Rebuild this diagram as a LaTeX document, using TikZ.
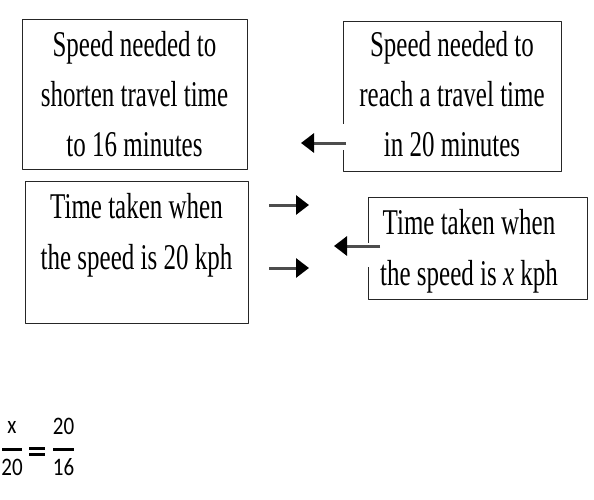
\documentclass[tikz,border=0pt]{standalone}
\usepackage{fontspec}
\setmainfont{Liberation Serif}
\newfontfamily\eqfont{Carlito}
\usetikzlibrary{arrows.meta,positioning}
\definecolor{BoxLine}{HTML}{262626}
\definecolor{ArrowShaft}{HTML}{4D4D4D}
\newcommand{\boxtext}[1]{\scalebox{1}[1.45]{\fontsize{25}{34.5}\selectfont\begin{tabular}{@{}c@{}}#1\end{tabular}}}
\newcommand{\eqnum}[1]{\scalebox{1}[1.2]{#1}}

\begin{document}
\begin{tikzpicture}[x=1pt,y=-1pt,line cap=round,line join=round,
  card/.style={draw=BoxLine,line width=1.3pt,anchor=north west,inner sep=0pt},
  pointer/.style={-{Triangle[length=13pt,width=19pt,color=black]},line width=3pt,draw=ArrowShaft,line cap=butt},
  eqtext/.style={font=\eqfont\fontsize{21}{24}\selectfont,anchor=base,inner sep=0pt}]
  \useasboundingbox (0,0) rectangle (594,500);
  % the four boxes
  \node[card,minimum width=225pt,minimum height=150pt] (speedSixteen) at (22,19) {};
  \node[card,minimum width=223pt,minimum height=142pt] (timeTwenty) at (25,181) {};
  \node[card,minimum width=218pt,minimum height=150pt] (speedTwenty) at (343,21) {};
  \node[card,minimum width=219pt,minimum height=102pt] (timeX) at (368,197) {};
  % gaps left where the arrows meet the boxes
  \draw[white,line width=3pt,line cap=butt] (343,124)--(343,150) (368,243)--(368,267);
  \node at (134.5,96.5) {\boxtext{Speed needed to\\shorten travel time\\to 16 minutes}};
  \node at (136.5,234) {\boxtext{Time taken when\\the speed is 20 kph}};
  \node at (452,96.5) {\boxtext{Speed needed to\\reach a travel time\\in 20 minutes}};
  \node at (469,250) {\boxtext{Time taken when\\the speed is \textit{x} kph}};
  % arrows
  \coordinate (aTail) at (346,143);\coordinate (aTip) at (301,143);
  \coordinate (bTail) at (269,205);\coordinate (bTip) at (309,205);
  \coordinate (cTail) at (269,268);\coordinate (cTip) at (309,268);
  \coordinate (dTail) at (380,246);\coordinate (dTip) at (334,246);
  \draw[pointer] (aTail)--(aTip);\draw[pointer] (bTail)--(bTip);
  \draw[pointer] (cTail)--(cTip);\draw[pointer] (dTail)--(dTip);
  % proportion
  \node[eqtext] (numX) at (12,433) {\eqnum{x}};\node[eqtext] (denA) at (12,475) {\eqnum{20}};
  \node[eqtext] (numB) at (63.5,434) {\eqnum{20}};\node[eqtext] (denB) at (63.5,475) {\eqnum{16}};
  \draw[line width=3pt,line cap=butt] (2,449)--(22,449) (53,449)--(74,449);
  \draw[line width=3pt,line cap=butt] (29,448)--(45,448) (29,454)--(45,454);
\end{tikzpicture}
\end{document}
